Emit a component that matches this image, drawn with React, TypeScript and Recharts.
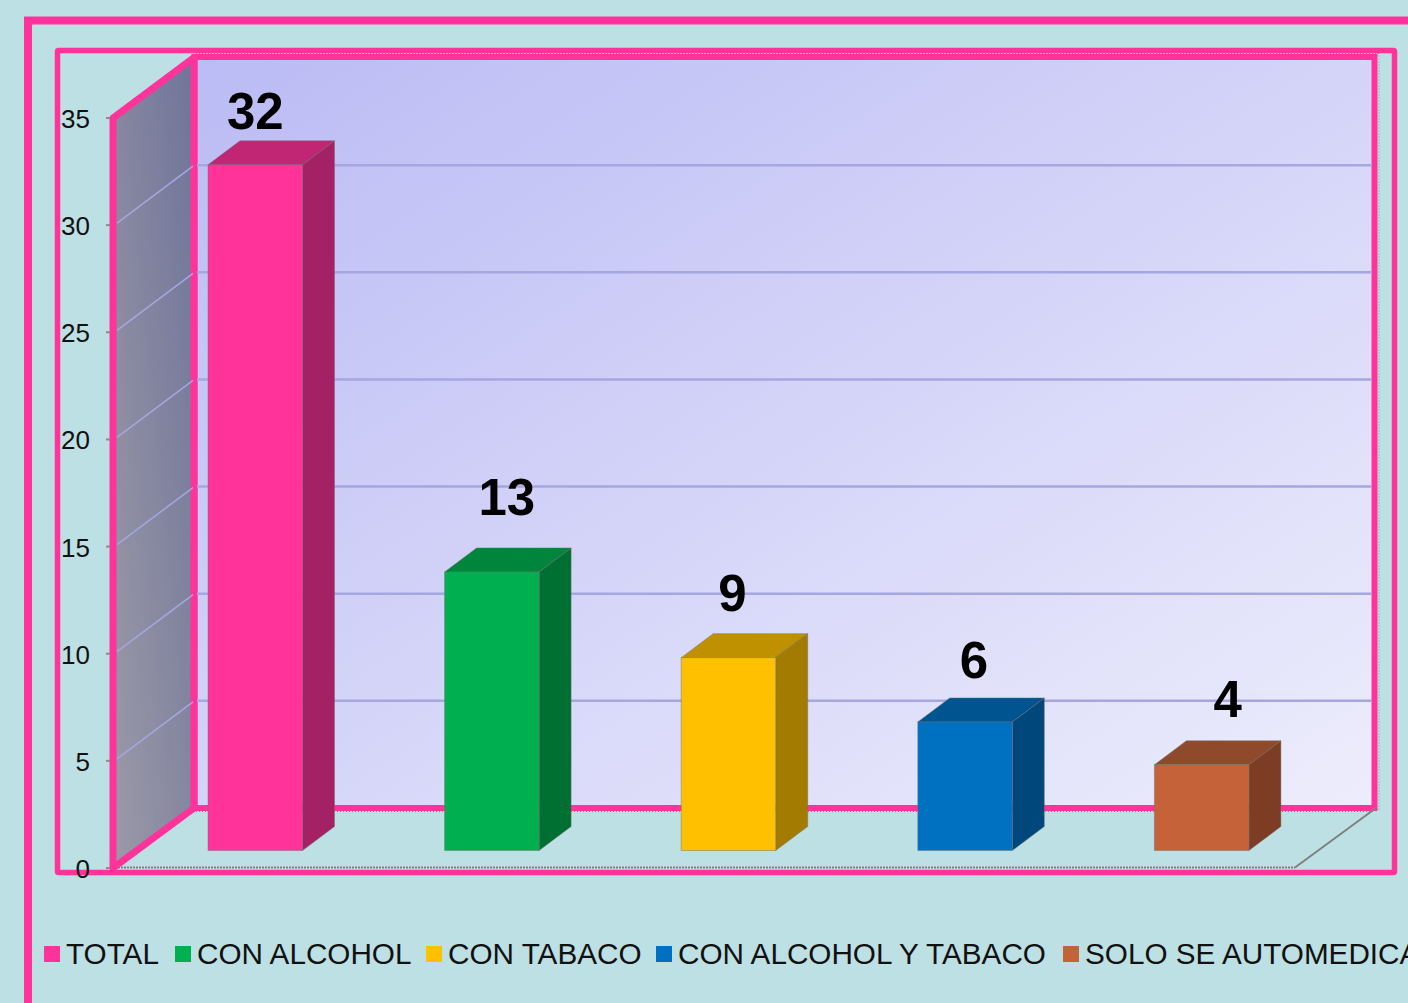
import { BarChart, Bar, YAxis, XAxis, CartesianGrid, LabelList, Legend } from 'recharts';

const categories = ['TOTAL', 'CON ALCOHOL', 'CON TABACO', 'CON ALCOHOL Y TABACO', 'SOLO SE AUTOMEDICA'];
const values = [32, 13, 9, 6, 4];
const yTicks = [0, 5, 10, 15, 20, 25, 30, 35];
const gridValues = [5, 10, 15, 20, 25, 30];

const frontColors = ['#FF3399', '#00B050', '#FFC000', '#0070C0', '#C5623A'];
const topColors = ['#C02674', '#00853C', '#BF9000', '#005490', '#8F4A2B'];
const sideColors = ['#A32164', '#006F32', '#A37B00', '#00477B', '#7D3C24'];

// value labels sit off-centre in the original
const labelDx = [0, 15, 4, 9, 26];
const labelDy = [53, 74, 64, 61, 65];

const legendSwatchX = [44, 175, 426, 656, 1063];

const PINK = '#FF3399';
const BG = '#BDE0E4';
const GRID = '#A6A6E0';
const FONT = '"Liberation Sans", Arial, sans-serif';

const WIDTH = 1408;
const HEIGHT = 1003;
const DEPTH_X = 32;
const DEPTH_Y = 24;
const BAR_SHIFT_X = 22;
const BAR_SHIFT_Y = 17.5;

const data = categories.map((name, i) => ({ name, value: values[i] }));

// frames, back wall and side wall behind the chart
function Room() {
  return (
    <svg width={WIDTH} height={HEIGHT} style={{ position: 'absolute', left: 0, top: 0 }}>
      <defs>
        <linearGradient id='backWall' x1='0' y1='0' x2='1' y2='1'>
          <stop offset='0%' stopColor='#BBBBF5' />
          <stop offset='100%' stopColor='#EDEDFC' />
        </linearGradient>
        <linearGradient id='sideWall' x1='0' y1='1' x2='1' y2='0'>
          <stop offset='0%' stopColor='#9C9AA8' />
          <stop offset='100%' stopColor='#6F7499' />
        </linearGradient>
      </defs>
      <path d='M1420 20.5 H28 V1015' fill='none' stroke={PINK} strokeWidth={8} />
      <rect x={57.5} y={50.5} width={1337} height={822} fill='none' stroke={PINK} strokeWidth={5.5} rx={1} />
      <rect x={194.5} y={57} width={1180} height={751} fill='url(#backWall)' stroke={PINK} strokeWidth={6} />
      <polygon points='113,118 194,57.5 194,808 113,868' fill='url(#sideWall)' />
      <path d='M113 868 V118 L194 57.5 V808 Z' fill='none' stroke={PINK} strokeWidth={7} strokeLinejoin='round' />
      <path d='M196 53.5 H1379 V811' fill='none' stroke='#8A8A8A' strokeWidth={1} strokeDasharray='1 2' />
      <path d='M196 811.5 H1375' fill='none' stroke='#8A8A8A' strokeWidth={1} strokeDasharray='1 2' />
      <path d='M118 867.5 H1295' fill='none' stroke='#808080' strokeWidth={2} strokeDasharray='2 1' />
      <path d='M1295 867.5 L1376 808' fill='none' stroke='#808080' strokeWidth={2} />
    </svg>
  );
}

function Bar3D(props: any) {
  const { x, y, width, height, index } = props;
  const l = x + BAR_SHIFT_X;
  const r = l + width;
  const t = y - BAR_SHIFT_Y;
  const b = t + height;
  const edge = 'rgba(110,110,110,0.45)';
  return (
    <g>
      <polygon
        points={`${l},${t} ${l + DEPTH_X},${t - DEPTH_Y} ${r + DEPTH_X},${t - DEPTH_Y} ${r},${t}`}
        fill={topColors[index]}
        stroke={edge}
      />
      <polygon
        points={`${r},${t} ${r + DEPTH_X},${t - DEPTH_Y} ${r + DEPTH_X},${b - DEPTH_Y} ${r},${b}`}
        fill={sideColors[index]}
        stroke={edge}
      />
      <rect x={l} y={t} width={width} height={height} fill={frontColors[index]} stroke={edge} />
    </g>
  );
}

function GridLine3D(props: any) {
  const { x1, x2, y1 } = props;
  return (
    <g>
      <line x1={x1 + 82} x2={x2 + 74} y1={y1 - 60} y2={y1 - 60} stroke={GRID} strokeWidth={2.5} />
      <line x1={x1 + 2} x2={x1 + 78} y1={y1 - 2} y2={y1 - 59} stroke={GRID} strokeWidth={1.5} />
    </g>
  );
}

function ValueLabel(props: any) {
  const { x, y, width, value, index } = props;
  return (
    <text
      x={x + BAR_SHIFT_X + width / 2 + labelDx[index]}
      y={y - labelDy[index]}
      textAnchor='middle'
      fontFamily={FONT}
      fontWeight='bold'
      fontSize={51}
      fill='#000'
    >
      {value}
    </text>
  );
}

function YTick(props: any) {
  const { x, y, payload } = props;
  return (
    <g>
      <line x1={106} x2={110} y1={y} y2={y} stroke='#8C8C8C' strokeWidth={2} />
      <text x={x} y={y + 10} textAnchor='end' fontFamily={FONT} fontSize={26} fill='#111'>
        {payload.value}
      </text>
    </g>
  );
}

function LegendRow() {
  return (
    <div style={{ position: 'relative', width: WIDTH, height: 40, fontFamily: FONT, fontSize: 29.7, color: '#111' }}>
      {categories.map((name, i) => (
        <div key={name} style={{ position: 'absolute', left: legendSwatchX[i], top: 0, whiteSpace: 'nowrap' }}>
          <span
            style={{
              position: 'absolute',
              left: 0,
              top: 11,
              width: 16,
              height: 16,
              background: frontColors[i],
            }}
          />
          <span style={{ position: 'absolute', left: 22, top: 0, lineHeight: '38px' }}>{name}</span>
        </div>
      ))}
    </div>
  );
}

export default function App() {
  return (
    <div
      style={{
        position: 'absolute',
        left: 0,
        top: 0,
        width: WIDTH,
        height: HEIGHT,
        background: BG,
        overflow: 'hidden',
      }}
    >
      <Room />
      <div style={{ position: 'absolute', left: 0, top: 0 }}>
        <BarChart
          width={WIDTH}
          height={HEIGHT}
          data={data}
          margin={{ top: 118, right: 110, bottom: 135, left: 0 }}
          barSize={94.5}
        >
          <CartesianGrid vertical={false} horizontalValues={gridValues} horizontal={(p: any) => <GridLine3D key={p.key} {...p} />} />
          <XAxis dataKey='name' hide />
          <YAxis
            width={115}
            domain={[0, 35]}
            ticks={yTicks}
            interval={0}
            axisLine={false}
            tickLine={false}
            tickMargin={0}
            tick={(p: any) => <YTick {...p} x={90} />}
          />
          <Legend
            layout='horizontal'
            verticalAlign='middle'
            align='center'
            content={() => <LegendRow />}
            wrapperStyle={{ left: 0, top: 935, width: WIDTH }}
          />
          <Bar dataKey='value' shape={(p: any) => <Bar3D {...p} />} isAnimationActive={false}>
            <LabelList dataKey='value' content={(p: any) => <ValueLabel {...p} />} />
          </Bar>
        </BarChart>
      </div>
    </div>
  );
}
